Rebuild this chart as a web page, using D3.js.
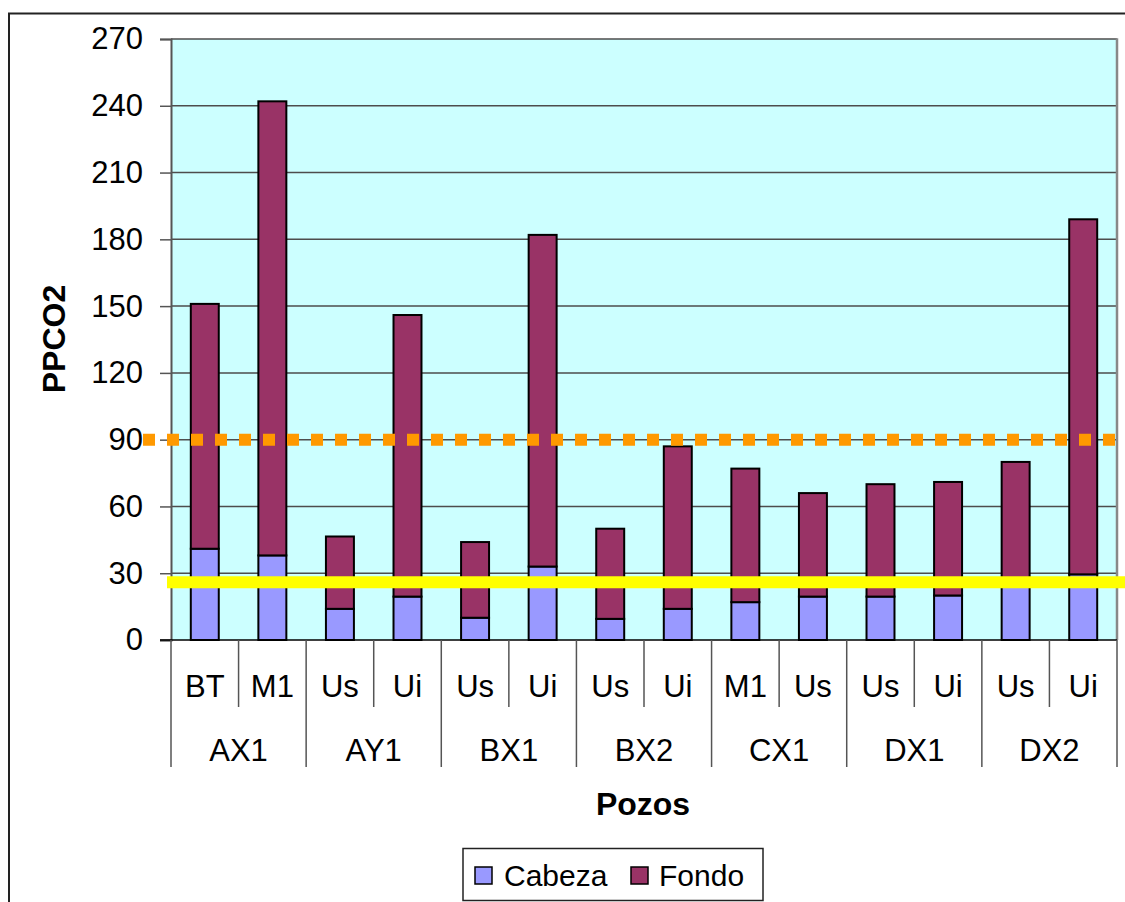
<!DOCTYPE html>
<html>
<head>
<meta charset="utf-8">
<script src="https://cdn.jsdelivr.net/npm/d3@7"></script>
<style>
  html, body { margin: 0; padding: 0; background: #fff; }
  svg { display: block; font-family: "Liberation Sans", Arial, sans-serif; }
</style>
</head>
<body>
<svg id="chart" width="1125" height="902"></svg>
<script>
// Wells (groups) and the producing zone of each bar
const groups = ["AX1", "AY1", "BX1", "BX2", "CX1", "DX1", "DX2"];
const zones = ["BT", "M1", "Us", "Ui", "Us", "Ui", "Us", "Ui", "M1", "Us", "Us", "Ui", "Us", "Ui"];
const zoneGroup = [0, 0, 1, 1, 2, 2, 3, 3, 4, 4, 5, 5, 6, 6];

// PPCO2 at the wellhead (Cabeza) and the extra at the bottom (Fondo), stacked
const cabeza = [41, 38, 14, 19.5, 10, 33, 9.5, 14, 17, 19.5, 19.5, 20, 26, 29.5];
const fondo = [110, 204, 32.5, 126.5, 34, 149, 40.5, 73, 60, 46.5, 50.5, 51, 54, 159.5];

const seriesNames = ["Cabeza", "Fondo"];
const seriesColors = ["#9999FF", "#993366"];

const yTicks = [0, 30, 60, 90, 120, 150, 180, 210, 240, 270];
const limitLow = 26;   // solid yellow reference line
const limitHigh = 90;  // dotted orange reference line

const svg = d3.select("#chart");
const plot = { left: 171, right: 1117, top: 39, bottom: 640 };

// Outer chart border (continues past the right and bottom edges)
svg.append("path")
  .attr("d", "M9,905 L9,13.5 L1130,13.5")
  .attr("fill", "none").attr("stroke", "#222").attr("stroke-width", 2);

const x = d3.scaleBand()
  .domain(d3.range(zones.length))
  .range([plot.left, plot.right])
  .paddingInner(0.586)
  .paddingOuter(0.293);

const y = d3.scaleLinear().domain([0, 270]).range([plot.bottom, plot.top]);

// Plot area background
svg.append("rect")
  .attr("x", plot.left).attr("y", plot.top)
  .attr("width", plot.right - plot.left).attr("height", plot.bottom - plot.top)
  .attr("fill", "#CCFFFF");

// Horizontal gridlines
svg.append("g").selectAll("line")
  .data(yTicks.filter(d => d > 0))
  .join("line")
  .attr("x1", plot.left).attr("x2", plot.right)
  .attr("y1", d => y(d)).attr("y2", d => y(d))
  .attr("stroke", "#4d4d4d").attr("stroke-width", 1.5);

// Right border of the plot area
svg.append("line")
  .attr("x1", plot.right).attr("x2", plot.right)
  .attr("y1", plot.top - 0.75).attr("y2", plot.bottom)
  .attr("stroke", "#888").attr("stroke-width", 2.5);

// Stacked bars
const stackData = zones.map((z, i) => ({ i, Cabeza: cabeza[i], Fondo: fondo[i] }));
const stacked = d3.stack().keys(seriesNames)(stackData);

svg.append("g").selectAll("g")
  .data(stacked)
  .join("g")
  .attr("fill", (d, k) => seriesColors[k])
  .selectAll("rect")
  .data(d => d)
  .join("rect")
  .attr("x", d => x(d.data.i))
  .attr("width", x.bandwidth())
  .attr("y", d => y(d[1]))
  .attr("height", d => y(d[0]) - y(d[1]))
  .attr("stroke", "#000").attr("stroke-width", 2);

// Y axis
const yAxis = d3.axisLeft(y).tickValues(yTicks).tickSize(11).tickPadding(17);
const gy = svg.append("g").attr("transform", `translate(${plot.left},0)`).call(yAxis);
gy.select(".domain").attr("stroke", "#555").attr("stroke-width", 2);
gy.selectAll(".tick line").attr("stroke", "#555").attr("stroke-width", 1.5);
gy.selectAll(".tick text")
  .attr("font-size", 31).attr("fill", "#000")
  .attr("font-family", "'Liberation Sans', Arial, sans-serif");

// Category axis baseline
svg.append("line")
  .attr("x1", plot.left - 11).attr("x2", plot.right)
  .attr("y1", plot.bottom).attr("y2", plot.bottom)
  .attr("stroke", "#000").attr("stroke-width", 1.5);

// Separators between zones and between wells
const step = x.step();
const bounds = d3.range(zones.length + 1);
svg.append("g").selectAll("line")
  .data(bounds)
  .join("line")
  .attr("x1", k => plot.left + k * step)
  .attr("x2", k => plot.left + k * step)
  .attr("y1", plot.bottom)
  .attr("y2", k => (k === 0 || k === zones.length || zoneGroup[k] !== zoneGroup[k - 1]) ? 767 : 707)
  .attr("stroke", "#555").attr("stroke-width", 1.5);

// Zone labels
svg.append("g").selectAll("text")
  .data(zones)
  .join("text")
  .attr("x", (d, i) => x(i) + x.bandwidth() / 2)
  .attr("y", 697)
  .attr("text-anchor", "middle")
  .attr("font-size", 31)
  .text(d => d);

// Well labels, centred under their zones
svg.append("g").selectAll("text")
  .data(groups)
  .join("text")
  .attr("x", (g, gi) => {
    const idx = zoneGroup.map((v, i) => v === gi ? i : -1).filter(i => i >= 0);
    return plot.left + (d3.min(idx) + d3.max(idx) + 1) / 2 * step;
  })
  .attr("y", 761)
  .attr("text-anchor", "middle")
  .attr("font-size", 31)
  .text(d => d);

// Reference lines
svg.append("line")
  .attr("x1", 143).attr("x2", plot.right)
  .attr("y1", y(limitHigh)).attr("y2", y(limitHigh))
  .attr("stroke", "#FF9900").attr("stroke-width", 12)
  .attr("stroke-dasharray", "12,12");

svg.append("line")
  .attr("x1", 167).attr("x2", 1125)
  .attr("y1", y(limitLow)).attr("y2", y(limitLow))
  .attr("stroke", "#FFFF00").attr("stroke-width", 12);

// Axis titles
svg.append("text")
  .attr("transform", `translate(65,339) rotate(-90)`)
  .attr("text-anchor", "middle")
  .attr("font-size", 32).attr("font-weight", "bold")
  .text("PPCO2");

svg.append("text")
  .attr("x", 643).attr("y", 815)
  .attr("text-anchor", "middle")
  .attr("font-size", 32).attr("font-weight", "bold")
  .text("Pozos");

// Legend
const legend = svg.append("g");
legend.append("rect")
  .attr("x", 463).attr("y", 848.5).attr("width", 300).attr("height", 52)
  .attr("fill", "#fff").attr("stroke", "#222").attr("stroke-width", 1.5);
const legendX = [475, 631];
const legendTextX = [504, 659];
seriesNames.forEach((name, k) => {
  legend.append("rect")
    .attr("x", legendX[k]).attr("y", 867).attr("width", 17).attr("height", 17)
    .attr("fill", seriesColors[k]).attr("stroke", "#000").attr("stroke-width", 1.5);
  legend.append("text")
    .attr("x", legendTextX[k]).attr("y", 886)
    .attr("font-size", 30)
    .text(name);
});
</script>
</body>
</html>
